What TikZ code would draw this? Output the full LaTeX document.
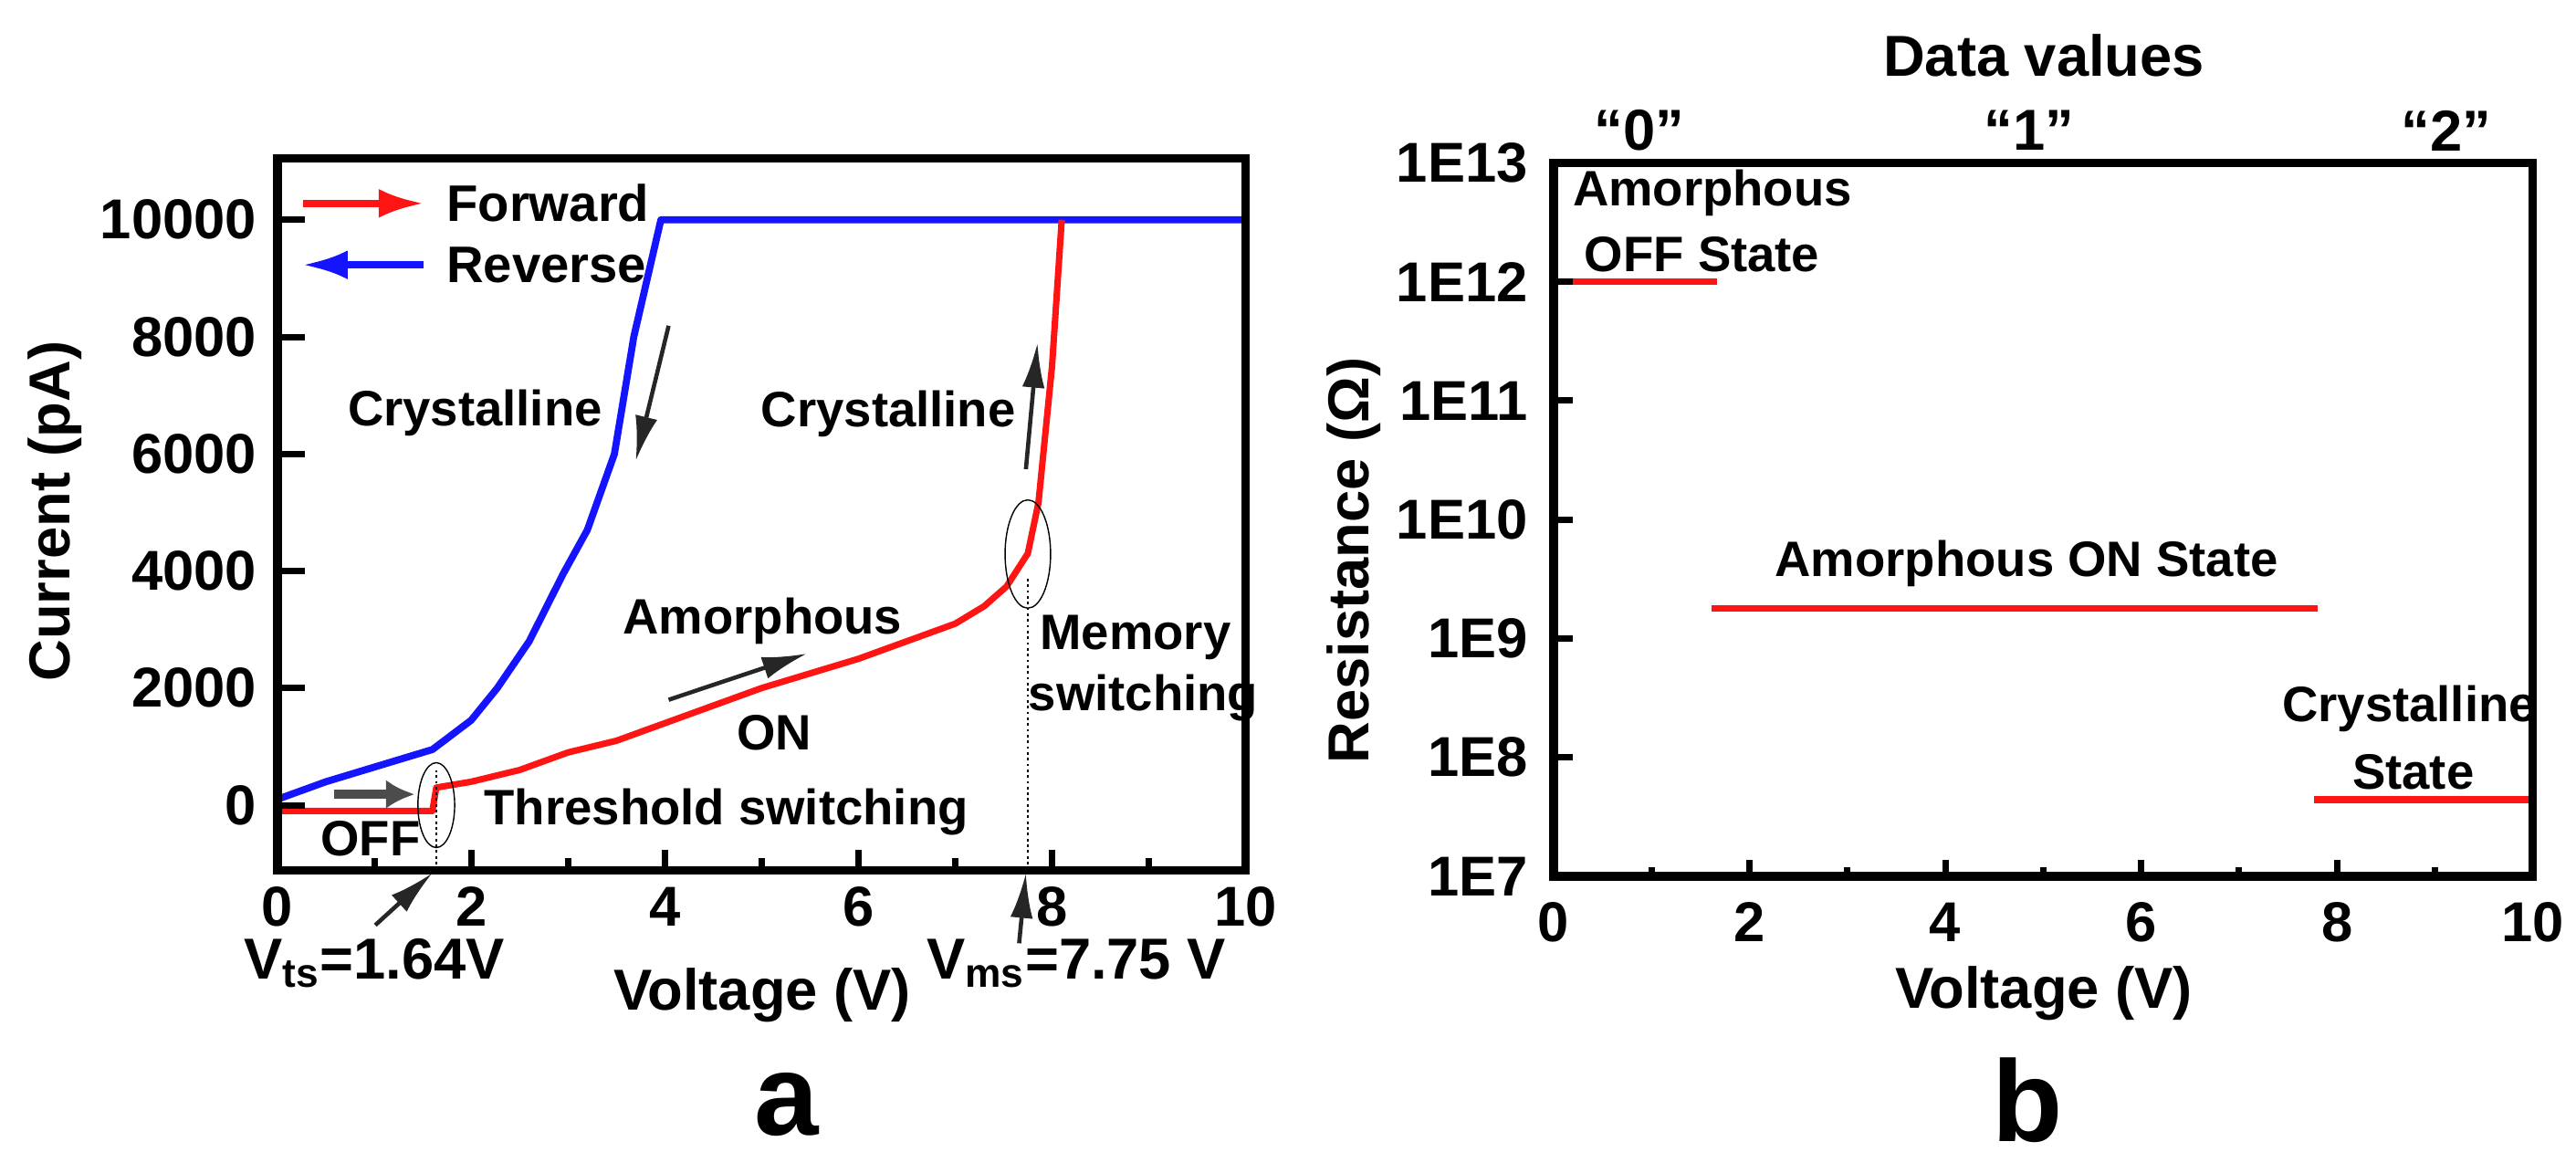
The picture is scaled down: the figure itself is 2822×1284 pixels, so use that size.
\documentclass[tikz,border=0pt]{standalone}
\usepackage{fontspec}
\setmainfont{Liberation Sans}
\usetikzlibrary{arrows.meta}
\definecolor{pred}{RGB}{255,20,20}
\definecolor{pblue}{RGB}{20,20,255}
\tikzset{
  tick/.style={font=\bfseries\fontsize{17.5}{20}\selectfont},
  ann/.style={font=\bfseries\fontsize{15.5}{18}\selectfont},
  lab/.style={font=\bfseries\fontsize{18}{21}\selectfont},
  leg/.style={font=\bfseries\fontsize{16}{19}\selectfont},
  frame/.style={line width=2.6pt},
  tk/.style={line width=2pt},
  blk/.style={draw=black!85,line width=1.3pt,-{Latex[length=14pt,width=7pt]}},
}
\begin{document}
\begin{tikzpicture}[x=0.01cm,y=-0.01cm]
\useasboundingbox (0,0) rectangle (2822,1284);
% ---------- panel a ----------
\begin{scope}[shift={(304,882)},x=1.06cm,y=0.000648cm]
  \draw[pblue,line width=2.2pt,line join=round] (0,100)--(0.5,400)--(1,650)--(1.6,950)--(2,1450)--(2.27,2000)--(2.6,2800)--(2.95,3950)--(3.2,4700)--(3.48,6000)--(3.68,8000)--(3.96,10000)--(10,10000);
  \draw[pred,line width=2pt,line join=round] (0,-100)--(1.6,-100)--(1.64,300)--(2,400)--(2.5,600)--(3,900)--(3.5,1100)--(4,1400)--(4.5,1700)--(5,2000)--(5.5,2250)--(6,2500)--(6.5,2800)--(7,3100)--(7.3,3400)--(7.53,3735)--(7.75,4300)--(7.86,5170)--(8.0,7500)--(8.1,10000);
  \draw[frame] (0,-1111) rectangle (10,11050);
  \foreach \v in {0,2,...,10}{\draw[tk] (\v,-1111)--++(0,350); \node[tick] at (\v,-1111) [yshift=-0.4cm] {\v};}
  \foreach \v in {1,3,...,9}{\draw[tk] (\v,-1111)--++(0,200);}
  \foreach \i in {0,2000,...,10000}{\draw[tk] (0,\i)--++(0.28,0); \node[tick,anchor=east] at (-0.1,\i) {\i};}
  % legend
  \draw[pred,line width=2.2pt,-{Latex[length=14pt,width=9pt]}] (0.26,10280)--(1.51,10280);
  \node[leg,anchor=west] (fw) at (1.63,10280) {Forward};
  \draw[pblue,line width=2.2pt,{Latex[length=14pt,width=9pt]}-] (0.26,9230)--(1.51,9230);
  \node[leg,anchor=west] (rv) at (1.63,9230) {Reverse};
  \node[ann] (cl) at (2.04,6700) {Crystalline};
  \coordinate (c1) at (4.04,8190); \coordinate (c2) at (3.70,5880);
  \draw[blk] (c1)--(c2);
  \node[ann] (cr) at (6.31,6680) {Crystalline};
  \coordinate (c3) at (7.73,5740); \coordinate (c4) at (7.85,7900);
  \draw[blk] (c3)--(c4);
  \node[ann] (am) at (5.01,3140) {Amorphous};
  \coordinate (c5) at (4.04,1800); \coordinate (c6) at (5.47,2590);
  \draw[blk] (c5)--(c6);
  \node[ann] (on) at (5.13,1230) {ON};
  \node[ann,anchor=west] (me) at (7.76,2860) {Memory};
  \node[ann,anchor=west] (sw) at (7.64,1840) {switching};
  \node[ann,anchor=west] (th) at (2.02,-120) {Threshold switching};
  \node[ann] (off) at (0.96,-570) {OFF};
  \draw[black!70,line width=3pt,-{Latex[length=9pt,width=9pt]}] (0.58,185)--(1.42,185);
  \draw (1.64,0) ellipse [x radius=0.19, y radius=725];
  \draw (7.75,4290) ellipse [x radius=0.235, y radius=925];
  \draw[densely dotted,line width=0.8pt] (1.64,-1111)--(1.64,600);
  \draw[densely dotted,line width=0.8pt] (7.75,-1111)--(7.75,3900);
  \coordinate (v1) at (1.01,-2050); \coordinate (v2) at (1.60,-1160);
  \draw[blk] (v1)--(v2);
  \coordinate (v3) at (7.66,-2360); \coordinate (v4) at (7.73,-1160);
  \draw[blk] (v3)--(v4);
\end{scope}
\node[lab] (vts) at (410,1055) {V\textsubscript{ts}=1.64V};
\node[lab] (vms) at (1179,1055) {V\textsubscript{ms}=7.75 V};
\node[lab] (xa) at (835,1090) {Voltage (V)};
\node[lab,rotate=90] (ya) at (60,560) {Current (pA)};
\node[font=\bfseries\fontsize{36}{40}\selectfont] (pa) at (862,1210) {a};
% ---------- panel b ----------
\begin{scope}[shift={(1702,960)},x=1.072cm,y=1.302cm]
  \draw[pred,line width=2pt] (0,5)--(1.67,5);
  \draw[pred,line width=2pt] (1.61,2.25)--(7.8,2.25);
  \draw[pred,line width=2pt] (7.77,0.645)--(10,0.645);
  \draw[frame] (0,0) rectangle (10,6);
  \foreach \v in {0,2,...,10}{\draw[tk] (\v,0)--++(0,0.14); \node[tick] at (\v,0) [yshift=-0.5cm] {\v};}
  \foreach \v in {1,3,...,9}{\draw[tk] (\v,0)--++(0,0.08);}
  \foreach \e [count=\k from 0] in {7,8,9,10,11,12,13}{\draw[tk] (0,\k)--++(0.2,0); \node[tick,anchor=east] at (-0.15,\k) {1E\e};}
  \node[ann,anchor=west] (amo) at (0.08,5.75) {Amorphous};
  \node[ann,anchor=west] (offs) at (0.2,5.23) {OFF State};
  \node[ann] (ons) at (4.83,2.63) {Amorphous ON State};
  \node[ann] (cs) at (8.74,1.41) {Crystalline};
  \node[ann] (st) at (8.78,0.88) {State};
\end{scope}
\node[lab] (dv) at (2239,61) {Data values};
\node[lab] (d0) at (1796,143) {“0”};
\node[lab] (d1) at (2223,143) {“1”};
\node[lab] (d2) at (2680,143) {“2”};
\node[lab] (xb) at (2239,1088) {Voltage (V)};
\node[lab,rotate=90] (yb) at (1483,614) {Resistance (Ω)};
\node[font=\bfseries\fontsize{36}{40}\selectfont] (pb) at (2221,1205) {b};
\end{tikzpicture}
\end{document}
